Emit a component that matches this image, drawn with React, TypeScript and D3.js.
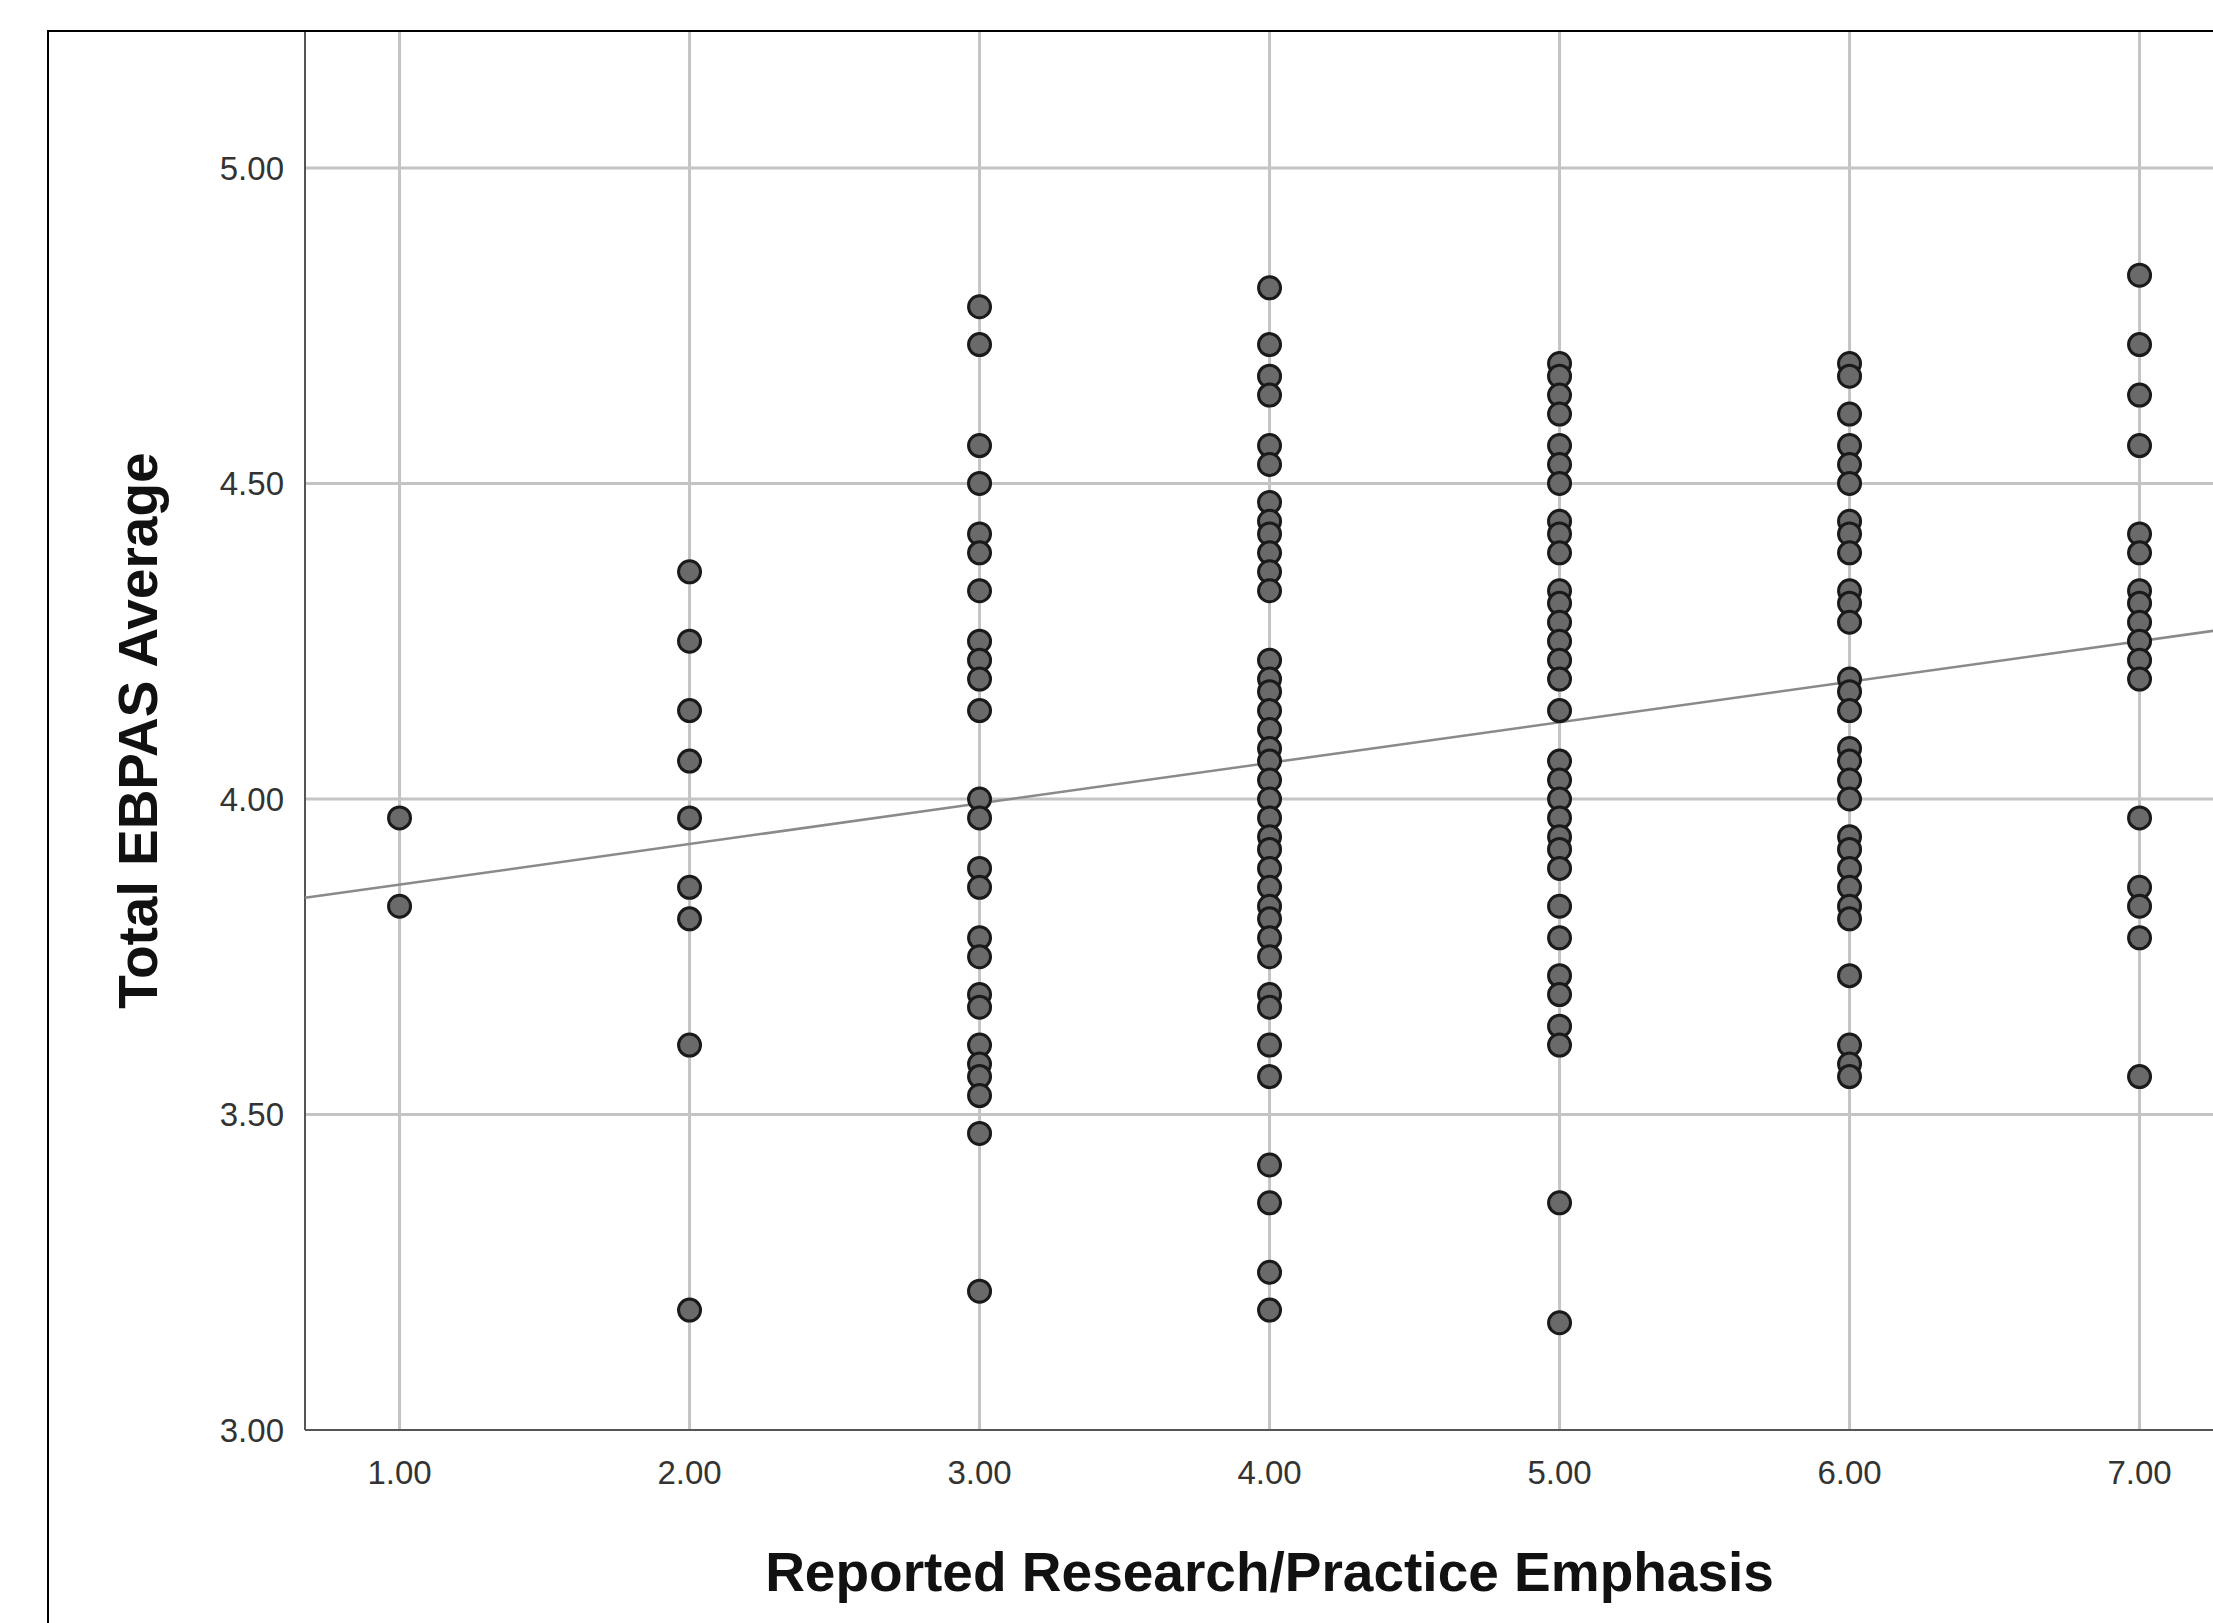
import React, { useEffect, useRef } from 'react';
import * as d3 from 'd3';

// x categories (Reported Research/Practice Emphasis)
const emphasis = [1, 2, 3, 4, 5, 6, 7];

// Total EBPAS Average values
const col1 = [3.97, 3.83];
const col2 = [4.36, 4.25, 4.14, 4.06, 3.97, 3.86, 3.81, 3.61, 3.19];
const col3 = [4.78, 4.72, 4.56, 4.5, 4.42, 4.39, 4.33, 4.25, 4.22, 4.19, 4.14, 4.0, 3.97, 3.89, 3.86, 3.78, 3.75, 3.69, 3.67, 3.61, 3.58, 3.56, 3.53, 3.47, 3.22];
const col4 = [4.81, 4.72, 4.67, 4.64, 4.56, 4.53, 4.47, 4.44, 4.42, 4.39, 4.36, 4.33, 4.22, 4.19, 4.17, 4.14, 4.11, 4.08, 4.06, 4.03, 4.0, 3.97, 3.94, 3.92, 3.89, 3.86, 3.83, 3.81, 3.78, 3.75, 3.69, 3.67, 3.61, 3.56, 3.42, 3.36, 3.25, 3.19];
const col5 = [4.69, 4.67, 4.64, 4.61, 4.56, 4.53, 4.5, 4.44, 4.42, 4.39, 4.33, 4.31, 4.28, 4.25, 4.22, 4.19, 4.14, 4.06, 4.03, 4.0, 3.97, 3.94, 3.92, 3.89, 3.83, 3.78, 3.72, 3.69, 3.64, 3.61, 3.36, 3.17];
const col6 = [4.69, 4.67, 4.61, 4.56, 4.53, 4.5, 4.44, 4.42, 4.39, 4.33, 4.31, 4.28, 4.19, 4.17, 4.14, 4.08, 4.06, 4.03, 4.0, 3.94, 3.92, 3.89, 3.86, 3.83, 3.81, 3.72, 3.61, 3.58, 3.56];
const col7 = [4.83, 4.72, 4.64, 4.56, 4.42, 4.39, 4.33, 4.31, 4.28, 4.25, 4.22, 4.19, 3.97, 3.86, 3.83, 3.78, 3.56];
const columns = [col1, col2, col3, col4, col5, col6, col7];

const xTicks = [1, 2, 3, 4, 5, 6, 7];
const yTicks = [3.0, 3.5, 4.0, 4.5, 5.0];

// fit line
const fitIntercept = 3.8;
const fitSlope = 0.0643;

const W = 2213;
const H = 1623;
const FONT = '"Liberation Sans", Arial, sans-serif';

const App = () => {
	const ref = useRef(null);

	useEffect(() => {
		const svg = d3.select(ref.current);
		svg.selectAll('*').remove();

		const left = 305;
		const top = 31;
		const bottom = 1430;

		const x = d3.scaleLinear().domain([0.674, 7.33]).range([left, left + 6.656 * 290]);
		const y = d3.scaleLinear().domain([3, 5.217]).range([bottom, top]);

		svg.append('rect').attr('width', W).attr('height', H).attr('fill', '#fff');

		// grid
		svg.append('g')
			.selectAll('line')
			.data(yTicks.filter(t => t > 3))
			.enter()
			.append('line')
			.attr('x1', left)
			.attr('x2', W)
			.attr('y1', d => y(d))
			.attr('y2', d => y(d))
			.attr('stroke', '#c4c4c4')
			.attr('stroke-width', 3);

		svg.append('g')
			.selectAll('line')
			.data(xTicks)
			.enter()
			.append('line')
			.attr('x1', d => x(d))
			.attr('x2', d => x(d))
			.attr('y1', top)
			.attr('y2', bottom)
			.attr('stroke', '#c4c4c4')
			.attr('stroke-width', 3);

		// axes lines
		svg.append('line')
			.attr('x1', left).attr('x2', left)
			.attr('y1', top).attr('y2', bottom)
			.attr('stroke', '#555').attr('stroke-width', 2);
		svg.append('line')
			.attr('x1', left).attr('x2', W)
			.attr('y1', bottom).attr('y2', bottom)
			.attr('stroke', '#555').attr('stroke-width', 2);

		// tick labels
		svg.append('g')
			.selectAll('text')
			.data(yTicks)
			.enter()
			.append('text')
			.attr('x', 284)
			.attr('y', d => y(d) + 12)
			.attr('text-anchor', 'end')
			.style('font-family', FONT)
			.style('font-size', '33px')
			.style('fill', '#333')
			.text(d => d.toFixed(2));

		svg.append('g')
			.selectAll('text')
			.data(xTicks)
			.enter()
			.append('text')
			.attr('x', d => x(d))
			.attr('y', 1484)
			.attr('text-anchor', 'middle')
			.style('font-family', FONT)
			.style('font-size', '33px')
			.style('fill', '#333')
			.text(d => d.toFixed(2));

		// fit line
		const xd = x.domain();
		svg.append('line')
			.attr('x1', x(xd[0]))
			.attr('y1', y(fitIntercept + fitSlope * xd[0]))
			.attr('x2', x(xd[1]))
			.attr('y2', y(fitIntercept + fitSlope * xd[1]))
			.attr('stroke', '#8a8a8a')
			.attr('stroke-width', 2.5);

		// points
		const pts = [];
		columns.forEach((col, i) => col.forEach(v => pts.push({ e: emphasis[i], v })));

		svg.append('g')
			.selectAll('circle')
			.data(pts)
			.enter()
			.append('circle')
			.attr('cx', d => x(d.e))
			.attr('cy', d => y(d.v))
			.attr('r', 11)
			.attr('fill', '#6a6a6a')
			.attr('stroke', '#1a1a1a')
			.attr('stroke-width', 3);

		// axis titles
		svg.append('text')
			.attr('transform', `translate(157, ${(top + bottom) / 2}) rotate(-90)`)
			.attr('text-anchor', 'middle')
			.style('font-family', FONT)
			.style('font-size', '55px')
			.style('font-weight', 'bold')
			.style('fill', '#111')
			.text('Total EBPAS Average');

		svg.append('text')
			.attr('x', x(4))
			.attr('y', 1591)
			.attr('text-anchor', 'middle')
			.style('font-family', FONT)
			.style('font-size', '55px')
			.style('font-weight', 'bold')
			.style('fill', '#111')
			.text('Reported Research/Practice Emphasis');

		// outer frame
		svg.append('rect')
			.attr('x', 48)
			.attr('y', 31)
			.attr('width', W)
			.attr('height', H)
			.attr('fill', 'none')
			.attr('stroke', '#000')
			.attr('stroke-width', 2);
	}, []);

	return (
		<svg
			ref={ref}
			width={W}
			height={H}
			style={{ position: 'absolute', left: 0, top: 0, display: 'block' }}
		/>
	);
};

export default App;
